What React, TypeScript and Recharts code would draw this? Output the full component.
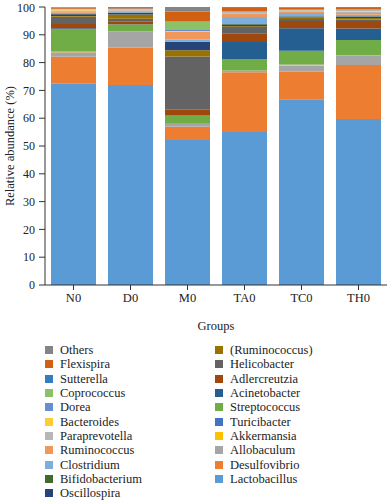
import { Bar, BarChart, XAxis, YAxis } from 'recharts';

const groups = ['N0', 'D0', 'M0', 'TA0', 'TC0', 'TH0'];
const yTicks = [0, 10, 20, 30, 40, 50, 60, 70, 80, 90, 100];

// relative abundance (%) per group, same order as groups
const lactobacillus = [72.4, 71.9, 52.2, 55.0, 66.8, 59.7];
const desulfovibrio = [9.7, 13.5, 4.7, 21.5, 9.9, 19.4];
const allobaculum = [1.6, 5.7, 1.0, 0.5, 2.2, 3.4];
const akkermansia = [0.2, 0.1, 0.0, 0.1, 0.3, 0.1];
const turicibacter = [0.1, 0.1, 0.1, 0.1, 0.1, 0.1];
const streptococcus = [8.0, 2.4, 2.9, 4.1, 5.0, 5.4];
const acinetobacter = [0.4, 0.1, 0.1, 6.1, 8.1, 4.2];
const adlercreutzia = [1.5, 0.9, 2.0, 3.2, 2.6, 2.7];
const helicobacter = [2.6, 1.1, 19.2, 2.2, 0.7, 0.5];
const ruminococcusP = [0.3, 1.5, 2.2, 0.3, 0.6, 0.5];
const oscillospira = [0.6, 0.6, 3.1, 0.6, 0.3, 0.6];
const bifidobacterium = [0.1, 0.1, 0.1, 0.2, 0.1, 0.1];
const clostridium = [0.4, 0.5, 0.7, 2.5, 1.1, 0.5];
const ruminococcus = [0.6, 0.2, 2.8, 1.2, 0.6, 0.6];
const paraprevotella = [0.2, 0.3, 0.2, 0.3, 0.3, 0.5];
const bacteroides = [0.4, 0.1, 0.1, 0.1, 0.1, 0.4];
const dorea = [0.1, 0.1, 0.3, 0.2, 0.1, 0.2];
const coprococcus = [0.1, 0.1, 3.0, 0.2, 0.1, 0.2];
const sutterella = [0.1, 0.2, 0.1, 0.1, 0.1, 0.1];
const flexispira = [0.4, 0.1, 3.6, 1.1, 0.6, 0.4];
const others = [0.2, 0.4, 1.6, 0.4, 0.3, 0.4];

// bottom of the stack first
const series = [
    { key: 'lactobacillus', name: 'Lactobacillus', values: lactobacillus, color: '#5B9BD5' },
    { key: 'desulfovibrio', name: 'Desulfovibrio', values: desulfovibrio, color: '#ED7D31' },
    { key: 'allobaculum', name: 'Allobaculum', values: allobaculum, color: '#A5A5A5' },
    { key: 'akkermansia', name: 'Akkermansia', values: akkermansia, color: '#FFC000' },
    { key: 'turicibacter', name: 'Turicibacter', values: turicibacter, color: '#4472C4' },
    { key: 'streptococcus', name: 'Streptococcus', values: streptococcus, color: '#70AD47' },
    { key: 'acinetobacter', name: 'Acinetobacter', values: acinetobacter, color: '#255E91' },
    { key: 'adlercreutzia', name: 'Adlercreutzia', values: adlercreutzia, color: '#9E480E' },
    { key: 'helicobacter', name: 'Helicobacter', values: helicobacter, color: '#636363' },
    { key: 'ruminococcusP', name: '(Ruminococcus)', values: ruminococcusP, color: '#997300' },
    { key: 'oscillospira', name: 'Oscillospira', values: oscillospira, color: '#264478' },
    { key: 'bifidobacterium', name: 'Bifidobacterium', values: bifidobacterium, color: '#43682B' },
    { key: 'clostridium', name: 'Clostridium', values: clostridium, color: '#7CAFDD' },
    { key: 'ruminococcus', name: 'Ruminococcus', values: ruminococcus, color: '#F1975A' },
    { key: 'paraprevotella', name: 'Paraprevotella', values: paraprevotella, color: '#B7B7B7' },
    { key: 'bacteroides', name: 'Bacteroides', values: bacteroides, color: '#FFCD33' },
    { key: 'dorea', name: 'Dorea', values: dorea, color: '#698ED0' },
    { key: 'coprococcus', name: 'Coprococcus', values: coprococcus, color: '#8CC168' },
    { key: 'sutterella', name: 'Sutterella', values: sutterella, color: '#327DC2' },
    { key: 'flexispira', name: 'Flexispira', values: flexispira, color: '#D26012' },
    { key: 'others', name: 'Others', values: others, color: '#848484' },
];

const data = groups.map((g, i) => {
    const row: { [k: string]: string | number } = { name: g };
    series.forEach((s) => {
        row[s.key] = s.values[i];
    });
    return row;
});

const FONT = '"Liberation Serif", "DejaVu Serif", serif';

// legend is listed top of stack first, in two columns
const legendItems = [...series].reverse();
const leftCol = legendItems.slice(0, 11);
const rightCol = legendItems.slice(11);

const LegendColumn = ({ items, left }: { items: typeof series; left: number }) => (
    <div style={{ position: 'absolute', left, top: 343 }}>
        {items.map((s) => (
            <div key={s.key} style={{ display: 'flex', alignItems: 'center', height: 14.3 }}>
                <span style={{ width: 8, height: 8, background: s.color, display: 'inline-block', marginRight: 7 }} />
                <span style={{ fontFamily: FONT, fontSize: 12.5, color: '#222', lineHeight: '14px' }}>{s.name}</span>
            </div>
        ))}
    </div>
);

export default function App() {
    return (
        <div style={{ position: 'absolute', left: 0, top: 0, width: 389, height: 500, background: '#fff' }}>
            <BarChart
                width={389}
                height={500}
                data={data}
                margin={{ top: 7, right: 2, left: 0, bottom: 166 }}
                barSize={45}
            >
                <XAxis
                    dataKey="name"
                    height={49}
                    tickSize={5}
                    tickMargin={3}
                    stroke="#333"
                    tick={{ fill: '#222', fontSize: 12.5, fontFamily: FONT }}
                    label={{
                        value: 'Groups',
                        position: 'insideBottom',
                        offset: 4,
                        style: { fill: '#222', fontSize: 12.5, fontFamily: FONT },
                    }}
                />
                <YAxis
                    width={45}
                    domain={[0, 100]}
                    ticks={yTicks}
                    allowDataOverflow
                    tickSize={6}
                    tickMargin={4}
                    stroke="#333"
                    tick={{ fill: '#222', fontSize: 12, fontFamily: FONT }}
                    label={{
                        value: 'Relative abundance (%)',
                        angle: -90,
                        position: 'insideLeft',
                        offset: 10,
                        style: { textAnchor: 'middle', fill: '#222', fontSize: 12.5, fontFamily: FONT },
                    }}
                />
                {series.map((s) => (
                    <Bar
                        key={s.key}
                        dataKey={s.key}
                        name={s.name}
                        stackId="a"
                        fill={s.color}
                        isAnimationActive={false}
                    />
                ))}
            </BarChart>
            <LegendColumn items={leftCol} left={45} />
            <LegendColumn items={rightCol} left={215} />
        </div>
    );
}
